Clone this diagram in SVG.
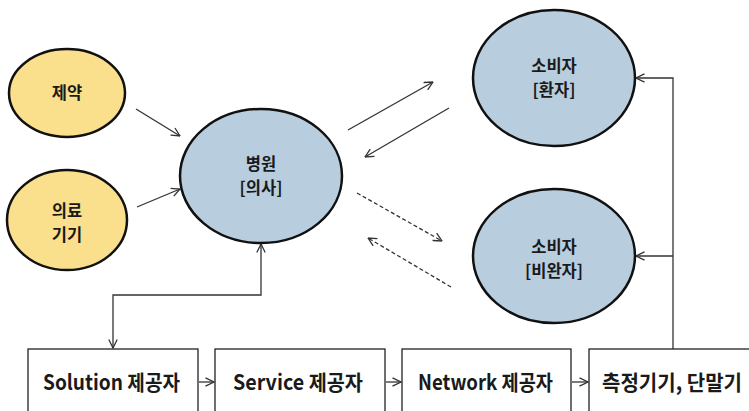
<svg xmlns="http://www.w3.org/2000/svg" width="749" height="411" viewBox="0 0 749 411">
  <defs>
    <marker id="chev" viewBox="0 0 10 10" refX="9.5" refY="5" markerWidth="10" markerHeight="10" markerUnits="userSpaceOnUse" orient="auto-start-reverse">
      <path d="M1,0.8 L9.5,5 L1,9.2" fill="none" stroke="#333" stroke-width="1.3"/>
    </marker>
    <style>
      .ell-y { fill: #FADF8C; stroke: #111; stroke-width: 2.5; }
      .ell-b { fill: #B8CDDD; stroke: #111; stroke-width: 2.5; }
      .lbl { font-family: "Noto Sans CJK KR", "Liberation Sans", sans-serif; font-weight: 700; font-size: 16.5px; fill: #1a1a1a; text-anchor: middle; }
      .box { fill: #fff; stroke: #222; stroke-width: 1.3; }
      .blbl { font-family: "Noto Sans CJK KR", "Liberation Sans", sans-serif; font-weight: 700; font-size: 21px; fill: #1a1a1a; }
      .con { fill: none; stroke: #333; stroke-width: 1.3; }
      .dash { stroke-dasharray: 4 2.5; }
    </style>
  </defs>
  <rect width="749" height="411" fill="#fff"/>

  <!-- connectors -->
  <g id="connectors">
    <line class="con" x1="136" y1="109" x2="180" y2="136" marker-end="url(#chev)"/>
    <line class="con" x1="137" y1="207" x2="180" y2="189" marker-end="url(#chev)"/>
    <line class="con" x1="348" y1="130" x2="433" y2="82" marker-end="url(#chev)"/>
    <line class="con" x1="449" y1="108" x2="365" y2="157" marker-end="url(#chev)"/>
    <line class="con dash" x1="357" y1="193" x2="442" y2="241" marker-end="url(#chev)"/>
    <line class="con dash" x1="451" y1="287" x2="368" y2="238" marker-end="url(#chev)"/>
    <polyline class="con" points="113,348 113,295 261,295 261,244" marker-start="url(#chev)" marker-end="url(#chev)"/>
    <polyline class="con" points="673,349 673,78 636,78" marker-end="url(#chev)"/>
    <line class="con" x1="673" y1="256" x2="636" y2="256" marker-end="url(#chev)"/>
    <line class="con" x1="199" y1="382" x2="214" y2="382" marker-end="url(#chev)"/>
    <line class="con" x1="386" y1="382" x2="401" y2="382" marker-end="url(#chev)"/>
    <line class="con" x1="572" y1="382" x2="588" y2="382" marker-end="url(#chev)"/>
  </g>

  <!-- suppliers -->
  <g id="pharma">
    <ellipse class="ell-y" cx="67" cy="93" rx="58" ry="44"/>
    <text class="lbl" x="67" y="99">제약</text>
  </g>
  <g id="device">
    <ellipse class="ell-y" cx="67" cy="220" rx="60" ry="50"/>
    <text class="lbl" x="67" y="217">의료</text>
    <text class="lbl" x="67" y="241">기기</text>
  </g>

  <!-- hospital -->
  <g id="hospital">
    <ellipse class="ell-b" cx="261" cy="176" rx="81" ry="67"/>
    <text class="lbl" x="261" y="170">병원</text>
    <text class="lbl" x="261" y="194">[의사]</text>
  </g>

  <!-- consumers -->
  <g id="patient">
    <ellipse class="ell-b" cx="554" cy="78" rx="81" ry="68"/>
    <text class="lbl" x="554" y="72">소비자</text>
    <text class="lbl" x="554" y="96">[환자]</text>
  </g>
  <g id="nonpatient">
    <ellipse class="ell-b" cx="554" cy="256" rx="81" ry="67"/>
    <text class="lbl" x="554" y="253">소비자</text>
    <text class="lbl" x="554" y="277">[비완자]</text>
  </g>

  <!-- value chain boxes -->
  <g id="solution">
    <rect class="box" x="28" y="349" width="170" height="75"/>
    <text class="blbl" x="43" y="390" textLength="137" lengthAdjust="spacingAndGlyphs">Solution 제공자</text>
  </g>
  <g id="service">
    <rect class="box" x="215" y="349" width="170" height="75"/>
    <text class="blbl" x="233" y="390" textLength="130" lengthAdjust="spacingAndGlyphs">Service 제공자</text>
  </g>
  <g id="network">
    <rect class="box" x="402" y="349" width="169" height="75"/>
    <text class="blbl" x="418" y="390" textLength="135" lengthAdjust="spacingAndGlyphs">Network 제공자</text>
  </g>
  <g id="terminal">
    <rect class="box" x="589" y="349" width="170" height="75"/>
    <text class="blbl" x="602" y="390" textLength="140" lengthAdjust="spacingAndGlyphs">측정기기, 단말기</text>
  </g>
</svg>
